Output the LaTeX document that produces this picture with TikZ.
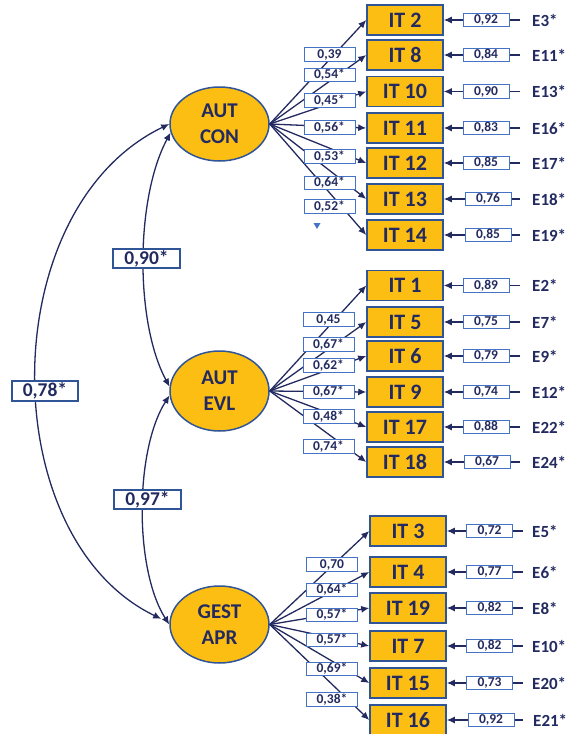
\documentclass[tikz,border=0pt]{standalone}
\usepackage{fontspec}
\setmainfont{Carlito}
\usetikzlibrary{shapes.geometric,arrows.meta,calc}
\definecolor{orng}{HTML}{FDBE14}
\definecolor{navy}{HTML}{222A60}
\definecolor{bblue}{HTML}{2F5597}
\definecolor{lblue}{HTML}{4472C4}
% #1 name, #2 label, #3 x, #4 y, #5 error value, #6 error name, #7 error box offset, #8 E offset
\newcommand\itrow[8]{%
  \node[itbox] (#1) at (#3,#4) {#2};
  \coordinate (#1s) at ($(#1)+(115,0)$);
  \draw[arr] (#1s) -- (#1.east);
  \node[errbox] (#1v) at ($(#1)+(#7,0)$) {#5};
  \node[elab] (#1e) at ($(#1)+(#8,0)$) {#6};
}
\begin{document}
\begin{tikzpicture}[x=1pt,y=-1pt,
  itbox/.style={draw=bblue, line width=1.5pt, fill=orng, minimum width=76pt, minimum height=30pt, inner sep=0pt, font=\bfseries\fontsize{22}{24}\selectfont, text=navy},
  ell/.style={ellipse, draw=bblue, line width=1.5pt, fill=orng, inner sep=0pt, align=center, font=\bfseries\fontsize{21}{26}\selectfont, text=navy},
  ldbox/.style={draw=lblue, line width=0.9pt, fill=white, minimum width=51pt, minimum height=13.5pt, inner sep=0pt, font=\bfseries\fontsize{13.5}{13.5}\selectfont, text=navy},
  errbox/.style={ldbox, minimum width=46pt},
  elab/.style={anchor=west, inner sep=0pt, font=\bfseries\fontsize{17}{17}\selectfont, text=navy},
  covbox/.style={draw=bblue, line width=1.5pt, fill=white, minimum width=67pt, minimum height=19pt, inner sep=0pt, font=\bfseries\fontsize{19.5}{19.5}\selectfont, text=navy},
  arr/.style={draw=navy, line width=1.3pt, -{Latex[length=8pt,width=7pt]}},
  cov/.style={draw=navy, line width=1.3pt, {Latex[length=8pt,width=7pt]}-{Latex[length=8pt,width=7pt]}}
]
\useasboundingbox (0,0) rectangle (568,734);

% latent variables
\node[ell, minimum width=99pt, minimum height=74pt] (con) at (219.5,124) {AUT\\CON};
\node[ell, minimum width=99pt, minimum height=80pt] (evl) at (219.5,391) {AUT\\EVL};
\node[ell, minimum width=99pt, minimum height=77pt] (apr) at (219.5,624.5) {GEST\\APR};

% items, section 1
\itrow{it2}{IT 2}{405}{20}{0,92}{E3*}{81}{127}
\itrow{it8}{IT 8}{405}{55}{0,84}{E11*}{81}{127}
\itrow{it10}{IT 10}{405}{91.5}{0,90}{E13*}{81}{127}
\itrow{it11}{IT 11}{405}{128}{0,83}{E16*}{81}{127}
\itrow{it12}{IT 12}{405}{163}{0,85}{E17*}{81}{127}
\itrow{it13}{IT 13}{405}{199}{0,76}{E18*}{83}{127}
\itrow{it14}{IT 14}{405}{235}{0,85}{E19*}{83}{127}
% section 2
\itrow{it1}{IT 1}{405}{285.5}{0,89}{E2*}{81}{127}
\itrow{it5}{IT 5}{405}{322}{0,75}{E7*}{81}{127}
\itrow{it6}{IT 6}{405}{356}{0,79}{E9*}{81}{127}
\itrow{it9}{IT 9}{405}{392}{0,74}{E12*}{81}{127}
\itrow{it17}{IT 17}{405}{427}{0,88}{E22*}{81}{127}
\itrow{it18}{IT 18}{405}{462}{0,67}{E24*}{82}{127}
% section 3
\itrow{it3}{IT 3}{408}{531}{0,72}{E5*}{81.5}{124}
\itrow{it4}{IT 4}{408}{572}{0,77}{E6*}{81.5}{124}
\itrow{it19}{IT 19}{408}{608}{0,82}{E8*}{81.5}{124}
\itrow{it7}{IT 7}{408}{646}{0,82}{E10*}{81.5}{124}
\itrow{it15}{IT 15}{408}{683}{0,73}{E20*}{81.5}{124}
\itrow{it16}{IT 16}{408}{720}{0,92}{E21*}{83}{125}

% loadings
\foreach \t in {it2,it8,it10,it11,it12,it13,it14} \draw[arr] (con.east) -- (\t.west);
\foreach \t in {it1,it5,it6,it9,it17,it18} \draw[arr] (evl.east) -- (\t.west);
\foreach \t in {it3,it4,it19,it7,it15,it16} \draw[arr] (apr.east) -- (\t.west);

\node[ldbox] (l2) at (329.5,54.5) {0,39};
\node[ldbox] (l8) at (329.5,75) {0,54*};
\node[ldbox] (l10) at (329.5,100.5) {0,45*};
\node[ldbox] (l11) at (329.5,127.5) {0,56*};
\node[ldbox] (l12) at (329.5,156.5) {0,53*};
\node[ldbox] (l13) at (329.5,183) {0,64*};
\node[ldbox] (l14) at (329.5,206.5) {0,52*};

\node[ldbox] (l1) at (328.5,319.5) {0,45};
\node[ldbox] (l5) at (328.5,344.5) {0,67*};
\node[ldbox] (l6) at (328.5,365.5) {0,62*};
\node[ldbox] (l9) at (328.5,392) {0,67*};
\node[ldbox] (l17) at (328.5,416.5) {0,48*};
\node[ldbox] (l18) at (328.5,446.5) {0,74*};

\node[ldbox] (l3) at (332,564.5) {0,70};
\node[ldbox] (l4) at (332,590) {0,64*};
\node[ldbox] (l19) at (332,615) {0,57*};
\node[ldbox] (l7) at (332,640) {0,57*};
\node[ldbox] (l15) at (332,669) {0,69*};
\node[ldbox] (l16) at (332,699.5) {0,38*};

% small marker
\fill[lblue] (313.5,223) -- (320.5,223) -- (317,229) -- cycle;

% covariances
\draw[cov] (con.190) .. controls +(-35,65) and +(-35,-65) .. (evl.175);
\draw[cov] (evl.185) .. controls +(-35,55) and +(-35,-55) .. (apr.west);
\draw[cov, shorten >=9pt] (con.west) .. controls +(-176,85) and +(-176,-85) .. (apr.178);

\node[covbox] (c1) at (146.5,258.5) {0,90*};
\node[covbox] (c2) at (147.5,499.5) {0,97*};
\node[covbox, minimum width=66pt, minimum height=20pt] (c3) at (45,391) {0,78*};
\end{tikzpicture}
\end{document}
